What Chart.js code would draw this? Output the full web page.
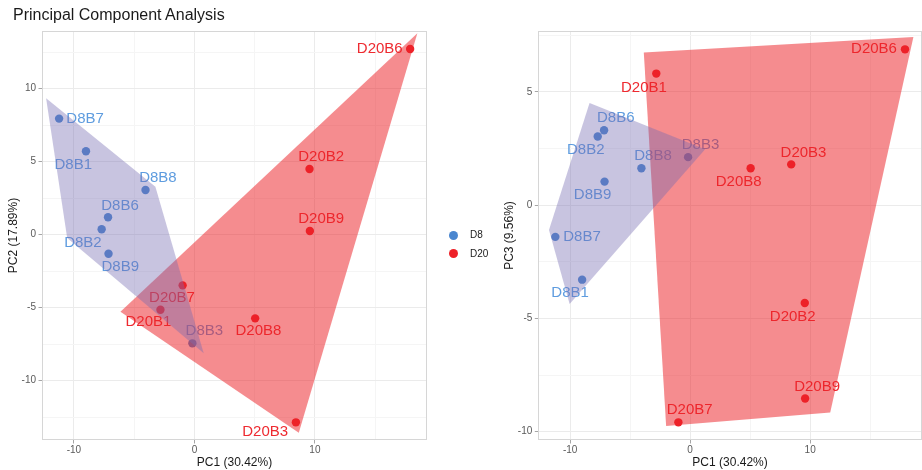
<!DOCTYPE html>
<html><head><meta charset="utf-8">
<script src="https://cdn.jsdelivr.net/npm/chart.js@4.4.0/dist/chart.umd.min.js"></script>
<style>
html,body{margin:0;padding:0;background:#fff;overflow:hidden;width:922px;height:470px;}
#wrap{position:relative;width:922px;height:470px;overflow:hidden;font-family:"Liberation Sans",Arial,sans-serif;}
#title{position:absolute;left:13px;top:6px;font-size:16px;color:#1a1a1a;white-space:nowrap;}
#c1{position:absolute;left:0;top:0;}
#c2{position:absolute;left:480px;top:0;}
.leg{position:absolute;left:449px;height:12px;font-size:10px;line-height:12px;color:#1a1a1a;white-space:nowrap;}
.leg span.dot{position:absolute;left:0;top:1.5px;width:9px;height:9px;border-radius:50%;}
.leg span.txt{position:absolute;left:21px;top:0;}
</style></head>
<body><div id="wrap">
<canvas id="c1" width="440" height="470"></canvas>
<canvas id="c2" width="446" height="470"></canvas>
<div id="title">Principal Component Analysis</div>
<div class="leg" style="top:229px"><span class="dot" style="background:#4A86CF"></span><span class="txt">D8</span></div>
<div class="leg" style="top:247.5px"><span class="dot" style="background:#EE2128"></span><span class="txt">D20</span></div>
</div>
<script>
// ---- data ----
const groups = ["D8", "D20"];
const d8Samples = ["D8B1","D8B2","D8B3","D8B6","D8B7","D8B8","D8B9"];
const d8PC1 = [-9.0, -7.7, -0.17, -7.17, -11.23, -4.06, -7.13];
const d8PC2 = [5.71, 0.37, -7.44, 1.19, 7.95, 3.06, -1.30];
const d8PC3 = [-3.29, 3.03, 2.12, 3.31, -1.40, 1.63, 1.04];
const d20Samples = ["D20B1","D20B2","D20B3","D20B6","D20B7","D20B8","D20B9"];
const d20PC1 = [-2.82, 9.55, 8.42, 17.9, -0.98, 5.04, 9.58];
const d20PC2 = [-5.14, 4.5, -12.85, 12.72, -3.47, -5.73, 0.25];
const d20PC3 = [5.81, -4.32, 1.8, 6.88, -9.59, 1.63, -8.54];
// group outline polygons (vertices)
const hullD8_12_x = [-12.31, -3.24, 0.77, -10.56];
const hullD8_12_y = [9.34, 3.29, -8.12, -0.23];
const hullD20_12_x = [18.5, 8.66, -6.14];
const hullD20_12_y = [13.8, -13.56, -5.27];
const hullD8_13_x = [-8.38, 1.25, -10.04, -11.76];
const hullD8_13_y = [4.51, 2.47, -4.37, -1.1];
const hullD20_13_x = [-3.86, 18.6, 11.67, -2.0];
const hullD20_13_y = [6.74, 7.42, -9.16, -9.75];
const pc1Title = "PC1 (30.42%)";
const pc2Title = "PC2 (17.89%)";
const pc3Title = "PC3 (9.56%)";
const chartTitle = "Principal Component Analysis";

// ---- layout / style ----
const FONT = '"Liberation Sans", Arial, sans-serif';
const colD8 = '#4A86CF', colD20 = '#EE2128';
const labD8 = '#5E9CDF', labD20 = '#EE2A30';
const fillD8 = 'rgba(117,107,177,0.40)', fillD20 = 'rgba(235,35,40,0.52)';
const offsets12 = {
  D8B1:[-12.7,13.7], D8B2:[-18.7,13.4], D8B3:[12,-12.3], D8B6:[12,-11.6], D8B7:[26,0], D8B8:[12.4,-12.3], D8B9:[11.7,13.4],
  D20B1:[-12,12.6], D20B2:[11.7,-12.3], D20B3:[-30.7,9.4], D20B6:[-30.4,0], D20B7:[-10.6,12.7], D20B8:[3.3,12.7], D20B9:[11.3,-11.7]
};
const offsets13 = {
  D8B1:[-12,13.6], D8B2:[-12,13.7], D8B3:[12.4,-12.7], D8B6:[11.7,-12.3], D8B7:[26.7,0], D8B8:[11.6,-12.3], D8B9:[-12,13],
  D20B1:[-12.4,14], D20B2:[-12,13.7], D20B3:[12.3,-12], D20B6:[-31,0], D20B7:[11.3,-12.3], D20B8:[-12,13.7], D20B9:[12,-12]
};

function pts(xs, ys){ return xs.map((v,i)=>({x:v, y:ys[i]})); }

const overlay = {
  id:'overlay',
  afterDatasetsDraw(chart){
    const cfg = chart.options.plugins.overlay;
    const ctx = chart.ctx; const a = chart.chartArea;
    const xs = chart.scales.x, ys = chart.scales.y;
    ctx.save();
    ctx.font = '15px ' + FONT;
    ctx.textAlign = 'center'; ctx.textBaseline = 'middle';
    chart.data.datasets.forEach((ds, di) => {
      const meta = chart.getDatasetMeta(di);
      meta.data.forEach((el, i) => {
        const name = ds.names[i];
        const off = cfg.offsets[name] || [0,0];
        ctx.fillStyle = ds.labelColor;
        ctx.fillText(name, el.x + off[0], el.y + off[1]);
      });
    });
    ctx.beginPath(); ctx.rect(a.left, a.top, a.right - a.left, a.bottom - a.top); ctx.clip();
    cfg.hulls.forEach(h => {
      ctx.beginPath();
      h.x.forEach((xv, i) => {
        const px = xs.getPixelForValue(xv), py = ys.getPixelForValue(h.y[i]);
        if (i) ctx.lineTo(px, py); else ctx.moveTo(px, py);
      });
      ctx.closePath(); ctx.fillStyle = h.color; ctx.fill();
    });
    ctx.restore();
    ctx.save();
    ctx.strokeStyle = '#D6D6D6'; ctx.lineWidth = 1;
    ctx.strokeRect(Math.round(a.left)+0.5, Math.round(a.top)+0.5, Math.round(a.right-a.left)-1, Math.round(a.bottom-a.top)-1);
    ctx.restore();
  }
};

function isMult(v, m){ const r = Math.abs(v / m - Math.round(v / m)); return r < 1e-6; }

function makeChart(id, yD8, yD20, xTitle, yTitle, yMin, yMax, hulls, offsets, yAxisW, yTitlePad, padRight){
  return new Chart(document.getElementById(id), {
    type: 'scatter',
    data: { datasets: [
      { label: groups[0], names: d8Samples, labelColor: labD8, data: pts(d8PC1, yD8),
        backgroundColor: colD8, borderWidth: 0, pointRadius: 4.2, pointHoverRadius: 4.2 },
      { label: groups[1], names: d20Samples, labelColor: labD20, data: pts(d20PC1, yD20),
        backgroundColor: colD20, borderWidth: 0, pointRadius: 4.2, pointHoverRadius: 4.2 }
    ]},
    options: {
      responsive: false, animation: false, events: [],
      layout: { padding: { left: 0, top: 31, right: padRight, bottom: 0 } },
      plugins: { legend: { display: false }, tooltip: { enabled: false },
        overlay: { hulls: hulls, offsets: offsets } },
      scales: {
        x: { type: 'linear', min: -12.65, max: 19.3,
          afterFit: s => { s.height = 30; },
          border: { display: false },
          grid: { color: c => isMult(c.tick.value, 10) ? '#EBEBEB' : '#F5F5F5', lineWidth: 1,
                  tickLength: 3.5, tickColor: c => isMult(c.tick.value, 10) ? '#A6A6A6' : 'rgba(0,0,0,0)' },
          ticks: { stepSize: 5, includeBounds: false, padding: 1, color: '#5A5A5A', font: { size: 10, family: FONT },
                   maxRotation: 0, autoSkip: false,
                   callback: v => isMult(v, 10) ? String(Math.round(v)) : '' },
          title: { display: true, text: xTitle, color: '#1a1a1a', font: { size: 12, family: FONT }, padding: { top: 0, bottom: 0.5 } }
        },
        y: { type: 'linear', min: yMin, max: yMax,
          afterFit: s => { s.width = yAxisW; },
          border: { display: false },
          grid: { color: c => isMult(c.tick.value, 5) ? '#EBEBEB' : '#F5F5F5', lineWidth: 1,
                  tickLength: 3.5, tickColor: c => isMult(c.tick.value, 5) ? '#A6A6A6' : 'rgba(0,0,0,0)' },
          ticks: { stepSize: 2.5, includeBounds: false, padding: 2.5, color: '#5A5A5A', font: { size: 10, family: FONT },
                   autoSkip: false,
                   callback: v => isMult(v, 5) ? String(Math.round(v)) : '' },
          title: { display: true, text: yTitle, color: '#1a1a1a', font: { size: 12, family: FONT }, padding: { top: yTitlePad, bottom: 0 } }
        }
      }
    },
    plugins: [overlay]
  });
}

document.getElementById('title').textContent = chartTitle;

makeChart('c1', d8PC2, d20PC2, pc1Title, pc2Title, -14.06, 13.95,
  [ {x: hullD20_12_x, y: hullD20_12_y, color: fillD20}, {x: hullD8_12_x, y: hullD8_12_y, color: fillD8} ],
  offsets12, 42, 6.8, 13);

makeChart('c2', d8PC3, d20PC3, pc1Title, pc3Title, -10.37, 7.69,
  [ {x: hullD20_13_x, y: hullD20_13_y, color: fillD20}, {x: hullD8_13_x, y: hullD8_13_y, color: fillD8} ],
  offsets13, 58.3, 22.8, 3.4);
</script>
</body></html>
